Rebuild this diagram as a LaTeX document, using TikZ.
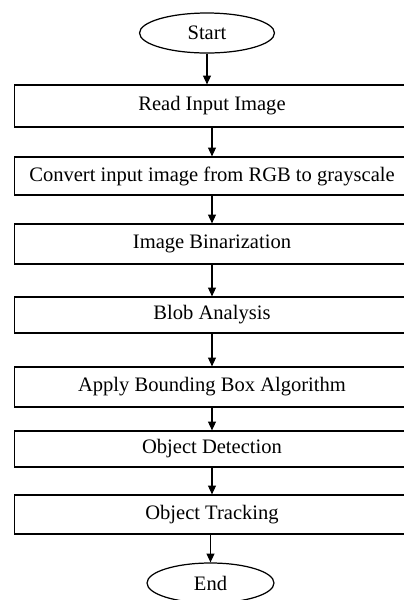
\documentclass[tikz,border=0pt]{standalone}
\usepackage{fontspec}
\setmainfont{Liberation Serif}
\usepackage{tikz}
\usetikzlibrary{arrows.meta, shapes.geometric}

\begin{document}
\begin{tikzpicture}[x=0.02cm, y=-0.02cm, >={Triangle[length=5pt, width=4.5pt]},
    line width=0.7pt,
    every node/.style={draw, font=\fontsize{11.7}{14}\selectfont, line width=0.7pt},
    stepbox/.style={rectangle, minimum width=7.9cm, inner sep=0pt},
    terminal/.style={ellipse, inner sep=0pt}]
      \useasboundingbox (0,0) rectangle (404,600);
      \node[terminal, minimum width=2.7cm, minimum height=0.8cm] (start) at (207,33) {Start};
      \node[stepbox, minimum height=0.84cm] (read) at (212,106) {Read Input Image};
      \node[stepbox, minimum height=0.76cm] (gray) at (212,176) {Convert input image from RGB to grayscale};
      \node[stepbox, minimum height=0.80cm] (binar) at (212,244) {Image Binarization};
      \node[stepbox, minimum height=0.72cm] (blob) at (212,315) {Blob Analysis};
      \node[stepbox, minimum height=0.80cm] (bbox) at (212,387) {Apply Bounding Box Algorithm};
      \node[stepbox, minimum height=0.72cm] (detect) at (212,449) {Object Detection};
      \node[stepbox, minimum height=0.78cm] (track) at (212,514.5) {Object Tracking};
      \node[terminal, minimum width=2.54cm, minimum height=0.8cm] (end) at (210.5,583) {End};
      \draw[->] (start.south) -- (start.south |- read.north);
      \draw[->] (read) -- (gray);
      \draw[->] (gray) -- (binar);
      \draw[->] (binar) -- (blob);
      \draw[->] (blob) -- (bbox);
      \draw[->] (bbox) -- (detect);
      \draw[->] (detect) -- (track);
      \draw[->] (track.south -| end.north) -- (end.north);
    \end{tikzpicture}
\end{document}
